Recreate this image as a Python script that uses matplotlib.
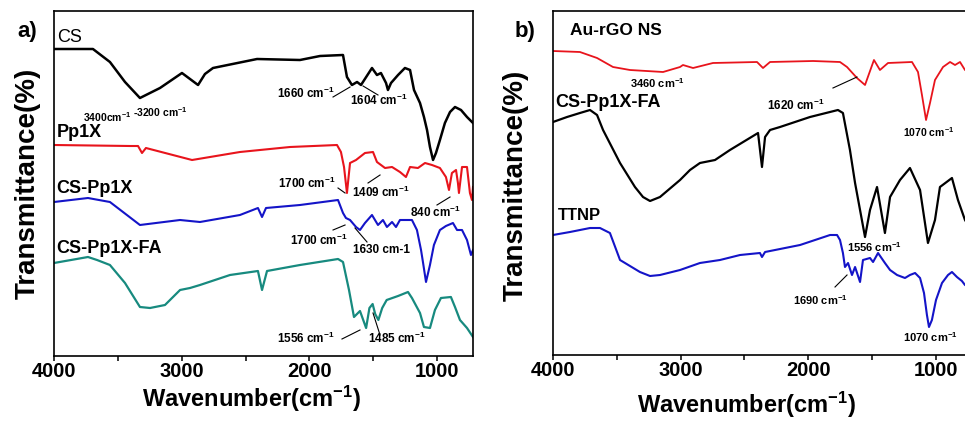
import matplotlib
matplotlib.use("Agg")
import matplotlib.pyplot as plt
from matplotlib.ticker import MultipleLocator

plt.rcParams['font.family'] = ['Liberation Sans', 'DejaVu Sans']
plt.rcParams['font.weight'] = 'bold'
plt.rcParams['mathtext.fontset'] = 'custom'
plt.rcParams['mathtext.rm'] = 'Liberation Sans:bold'
plt.rcParams['mathtext.it'] = 'Liberation Sans:bold'
plt.rcParams['mathtext.bf'] = 'Liberation Sans:bold'
plt.rcParams['mathtext.default'] = 'rm'

#panel a spectra (wavenumber, transmittance in a.u. incl. offset)
cs_wn = [4000, 3695, 3562, 3444, 3327, 3170, 2998, 2935, 2872, 2818, 2755, 2410, 2074, 1917, 1737,
         1706, 1667, 1627, 1596, 1510, 1471, 1440, 1400, 1385, 1361, 1306, 1252, 1212, 1181, 1134,
         1103, 1079, 1056, 1032, 1009, 978, 939, 899, 860, 813, 766, 719]
cs_t = [307, 307, 294, 274, 258, 268, 283, 277, 271, 282, 288, 297, 296, 300, 301,
        279, 271, 274, 271, 288, 281, 283, 273, 266, 273, 281, 288, 286, 266, 253,
        239, 226, 209, 196, 203, 216, 233, 244, 249, 246, 239, 233]

pp1x_wn = [4000, 3405, 3342, 3311, 3280, 2919, 2544, 2152, 1784, 1753, 1729, 1706, 1682, 1635,
           1565, 1502, 1471, 1408, 1353, 1291, 1244, 1212, 1150, 1095, 1040, 978, 931, 907, 884,
           852, 837, 829, 805, 766, 743, 727, 719]
pp1x_t = [211, 210, 210, 203, 208, 196, 204, 209, 211, 204, 189, 163, 193, 196,
          203, 204, 194, 188, 189, 184, 179, 189, 188, 193, 191, 188, 179, 166, 183,
          186, 173, 163, 189, 189, 163, 156, 169]

cspp_wn = [4000, 3734, 3562, 3327, 3013, 2857, 2544, 2403, 2371, 2340, 2074, 1776, 1737, 1714,
           1682, 1635, 1604, 1565, 1510, 1463, 1424, 1393, 1353, 1322, 1291, 1197, 1158, 1126,
           1111, 1087, 1056, 1025, 978, 931, 876, 844, 805, 766, 735, 719]
cspp_t = [154, 158, 154, 131, 136, 134, 141, 148, 139, 148, 151, 156, 143, 138,
          136, 129, 126, 133, 141, 131, 136, 129, 134, 129, 136, 136, 126, 106,
          94, 74, 91, 111, 126, 130, 133, 126, 126, 116, 101, 106]

csfa_wn = [4000, 3734, 3663, 3562, 3444, 3327, 3248, 3131, 3013, 2935, 2857, 2622, 2403, 2371,
           2332, 2074, 1776, 1737, 1690, 1651, 1604, 1556, 1530, 1505, 1485, 1460, 1430, 1395,
           1306, 1228, 1197, 1134, 1103, 1056, 1017, 970, 892, 860, 821, 766, 719]
csfa_t = [93, 99, 96, 91, 73, 49, 48, 51, 66, 68, 71, 81, 85, 66,
          85, 91, 97, 94, 66, 39, 45, 28, 48, 52, 42, 36, 48, 56,
          60, 64, 58, 43, 29, 28, 46, 58, 59, 49, 36, 28, 19]

#panel b spectra
aurgo_wn = [4000, 3789, 3655, 3530, 3397, 3138, 3005, 2982, 2903, 2747, 2402, 2355, 2300, 1963,
            1752, 1697, 1619, 1556, 1486, 1439, 1376, 1188, 1141, 1110, 1078, 1047, 1008, 945,
            890, 851, 812, 773, 700]
aurgo_t = [304, 303, 297, 288, 285, 283, 288, 290, 287, 292, 293, 287, 293, 294,
           293, 288, 277, 270, 295, 285, 292, 293, 283, 260, 235, 252, 275, 288,
           293, 290, 293, 285, 280]

fa_wn = [4000, 3890, 3789, 3710, 3655, 3608, 3475, 3358, 3295, 3240, 3162, 3005, 2927, 2849,
         2731, 2614, 2394, 2363, 2339, 2300, 2222, 1987, 1768, 1729, 1674, 1634, 1595, 1556,
         1517, 1462, 1400, 1360, 1282, 1204, 1125, 1063, 1008, 969, 875, 828, 773, 700]
fa_t = [233, 238, 242, 245, 240, 225, 192, 168, 158, 154, 158, 175, 185, 192,
        195, 205, 222, 188, 218, 225, 228, 238, 245, 242, 205, 172, 145, 118,
        145, 168, 122, 158, 175, 187, 165, 112, 135, 168, 177, 155, 135, 120]

ttnp_wn = [4000, 3867, 3710, 3632, 3554, 3475, 3319, 3240, 3162, 3005, 2849, 2692, 2535, 2379,
           2363, 2339, 2065, 1830, 1775, 1752, 1729, 1713, 1689, 1658, 1634, 1595, 1572, 1517,
           1493, 1454, 1400, 1360, 1305, 1243, 1204, 1164, 1125, 1094, 1071, 1055, 1032, 1000,
           953, 906, 875, 836, 797, 773, 700]
ttnp_t = [120, 123, 127, 127, 122, 95, 83, 79, 80, 85, 92, 95, 100, 102,
          98, 103, 110, 120, 120, 115, 102, 88, 92, 80, 88, 73, 95, 97,
          93, 102, 92, 85, 80, 77, 80, 82, 77, 62, 40, 28, 35, 55,
          72, 80, 83, 78, 74, 70, 65]

red = '#e8141c'
blue = '#1414c8'
teal = '#178a7f'

fig = plt.figure(figsize=(9.65, 4.21), dpi=100)
ax1 = fig.add_axes([54/965, 65/421, 419/965, 345/421])
ax2 = fig.add_axes([553/965, 66/421, 421.3/965, 344/421])

ax1.plot(cs_wn, cs_t, color='black', lw=1.8)
ax1.plot(pp1x_wn, pp1x_t, color=red, lw=1.5)
ax1.plot(cspp_wn, cspp_t, color=blue, lw=1.5)
ax1.plot(csfa_wn, csfa_t, color=teal, lw=1.6)
ax1.set_xlim(4000, 719)
ax1.set_ylim(0, 345)

ax2.plot(aurgo_wn, aurgo_t, color=red, lw=1.3)
ax2.plot(fa_wn, fa_t, color='black', lw=1.6)
ax2.plot(ttnp_wn, ttnp_t, color=blue, lw=1.5)
ax2.set_xlim(4000, 700)
ax2.set_ylim(0, 344)

for ax in (ax1, ax2):
    ax.set_yticks([])
    ax.xaxis.set_major_locator(MultipleLocator(1000))
    ax.xaxis.set_minor_locator(MultipleLocator(500))
    ax.tick_params(axis='x', which='both', direction='out', length=3.5, width=1.1,
                   labelsize=14.5, pad=1)
    for s in ax.spines.values():
        s.set_linewidth(1.2)

#curve labels
ax1.text(3977, 314, 'CS', fontsize=13, fontweight='normal')
ax1.text(3977, 219, 'Pp1X', fontsize=13)
ax1.text(3985, 163, 'CS-Pp1X', fontsize=13)
ax1.text(3985, 103, 'CS-Pp1X-FA', fontsize=13)
ax2.text(3867, 320, 'Au-rGO NS', fontsize=12.5)
ax2.text(3984, 248, 'CS-Pp1X-FA', fontsize=13)
ax2.text(3961, 135, 'TTNP', fontsize=12)

#peak annotations
fs = 8.5
ax1.text(3773, 234, '3400cm$^{-1}$', fontsize=7.5)
ax1.text(3381, 239, '-3200 cm$^{-1}$', fontsize=7.5)
ax1.text(2254, 258, '1660 cm$^{-1}$', fontsize=fs)
ax1.plot([1815, 1682], [259, 269], color='black', lw=0.8)
ax1.text(1682, 251, '1604 cm$^{-1}$', fontsize=fs)
ax1.plot([1580, 1463], [270, 261], color='black', lw=0.8)
ax1.text(2246, 168, '1700 cm$^{-1}$', fontsize=fs)
ax1.plot([1776, 1721], [168, 163], color='black', lw=0.8)
ax1.text(1667, 159, '1409 cm$^{-1}$', fontsize=fs)
ax1.plot([1541, 1447], [173, 181], color='black', lw=0.8)
ax1.text(1213, 139, '840 cm$^{-1}$', fontsize=fs)
ax1.plot([1001, 899], [151, 159], color='black', lw=0.8)
ax1.text(2152, 111, '1700 cm$^{-1}$', fontsize=fs)
ax1.plot([1815, 1721], [126, 131], color='black', lw=0.8)
ax1.text(1659, 103, '1630 cm-1', fontsize=fs)
ax1.plot([1643, 1549], [128, 114], color='black', lw=0.8)
ax1.text(2254, 13, '1556 cm$^{-1}$', fontsize=fs)
ax1.plot([1745, 1604], [17, 26], color='black', lw=0.8)
ax1.text(1541, 13, '1485 cm$^{-1}$', fontsize=fs)
ax1.plot([1502, 1447], [43, 21], color='black', lw=0.8)

ax2.text(3397, 267, '3460 cm$^{-1}$', fontsize=8)
ax2.text(2324, 245, '1620 cm$^{-1}$', fontsize=8.5)
ax2.plot([1807, 1619], [267, 278], color='black', lw=0.8)
ax2.text(1258, 218, '1070 cm$^{-1}$', fontsize=7.5)
ax2.text(1697, 103, '1556 cm$^{-1}$', fontsize=8)
ax2.text(2120, 50, '1690 cm$^{-1}$', fontsize=8)
ax2.plot([1791, 1697], [68, 80], color='black', lw=0.8)
ax2.text(1258, 13, '1070 cm$^{-1}$', fontsize=8)

#axis titles and panel letters
fig.text(251/965, 1 - 407/421, 'Wavenumber(cm$^{-1}$)', fontsize=17, ha='center', va='baseline')
fig.text(746/965, 1 - 413/421, 'Wavenumber(cm$^{-1}$)', fontsize=17, ha='center', va='baseline')
fig.text(28/965, 1 - 183/421, 'Transmittance(%)', fontsize=20, rotation=90, ha='center', va='center')
fig.text(516/965, 1 - 185/421, 'Transmittance(%)', fontsize=20, rotation=90, ha='center', va='center')
fig.text(17/965, 1 - 31/421, 'a)', fontsize=16, ha='left', va='center')
fig.text(515/965, 1 - 32/421, 'b)', fontsize=16, ha='left', va='center')

fig.savefig('out.png', dpi=100)
